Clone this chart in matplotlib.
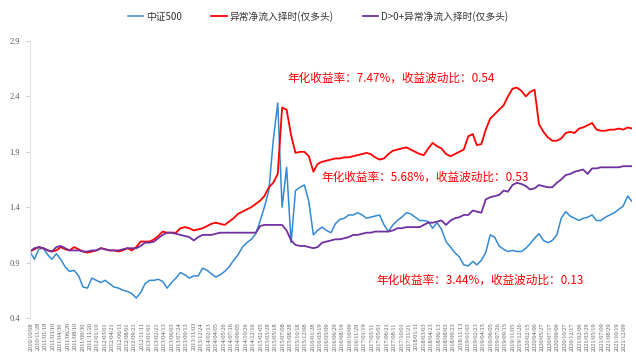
import matplotlib
matplotlib.use("Agg")
import matplotlib.pyplot as plt
import numpy as np
import pandas as pd

# month-start sample dates (one value per month)
dates = pd.date_range("2010-10-01", periods=137, freq="MS")

csi500 = [
    1.00, 0.93, 1.02, 1.03, 0.97, 0.93, 0.98, 0.93, 0.86, 0.82,
    0.83, 0.78, 0.68, 0.67, 0.76, 0.74, 0.72, 0.74, 0.71, 0.68,
    0.67, 0.65, 0.64, 0.62, 0.58, 0.63, 0.71, 0.74, 0.74, 0.75,
    0.73, 0.67, 0.72, 0.76, 0.81, 0.79, 0.76, 0.78, 0.78, 0.85,
    0.83, 0.80, 0.77, 0.79, 0.82, 0.86, 0.92, 0.97, 1.04, 1.08,
    1.11, 1.16, 1.28, 1.40, 1.55, 2.00, 2.34, 1.40, 1.76, 1.08,
    1.55, 1.58, 1.60, 1.45, 1.15, 1.19, 1.22, 1.19, 1.17, 1.25,
    1.29, 1.30, 1.33, 1.33, 1.35, 1.33, 1.30, 1.31, 1.32, 1.33,
    1.24, 1.18, 1.24, 1.28, 1.31, 1.35, 1.34, 1.31, 1.28, 1.28,
    1.27, 1.21, 1.26, 1.20, 1.09, 1.04, 0.99, 0.95, 0.88, 0.87,
    0.91, 0.88, 0.92, 0.99, 1.15, 1.13, 1.05, 1.02, 1.00, 1.01,
    1.00, 1.00, 1.03, 1.07, 1.12, 1.16, 1.10, 1.08, 1.10, 1.15,
    1.30, 1.36, 1.32, 1.30, 1.28, 1.30, 1.31, 1.33, 1.28, 1.28,
    1.31, 1.33, 1.35, 1.38, 1.41, 1.50, 1.45,
]

abnormal_inflow = [
    1.00, 1.02, 1.04, 1.03, 1.01, 1.00, 1.01, 1.04, 1.02, 1.01,
    1.04, 1.02, 1.00, 0.99, 1.00, 1.01, 1.03, 1.02, 1.01, 1.01,
    1.00, 1.01, 1.03, 1.01, 1.04, 1.09, 1.09, 1.09, 1.11, 1.14,
    1.18, 1.17, 1.17, 1.17, 1.21, 1.22, 1.21, 1.19, 1.20, 1.21,
    1.23, 1.25, 1.26, 1.25, 1.24, 1.27, 1.30, 1.34, 1.36, 1.38,
    1.40, 1.43, 1.46, 1.50, 1.58, 1.62, 1.70, 2.30, 2.28, 2.05,
    1.89, 1.90, 1.90, 1.86, 1.72, 1.79, 1.81, 1.82, 1.83, 1.84,
    1.84, 1.85, 1.85, 1.86, 1.87, 1.88, 1.89, 1.88, 1.85, 1.83,
    1.84, 1.88, 1.91, 1.92, 1.93, 1.94, 1.92, 1.90, 1.88, 1.87,
    1.93, 1.98, 1.95, 1.93, 1.88, 1.86, 1.88, 1.90, 1.92, 2.04,
    2.06, 1.96, 1.97, 2.10, 2.20, 2.24, 2.28, 2.32, 2.40, 2.47,
    2.48, 2.45, 2.40, 2.44, 2.46, 2.15, 2.08, 2.03, 2.00, 2.00,
    2.02, 2.07, 2.08, 2.07, 2.11, 2.12, 2.14, 2.16, 2.10, 2.09,
    2.09, 2.10, 2.10, 2.11, 2.10, 2.12, 2.11,
]

d_pos_inflow = [
    1.00, 1.03, 1.04, 1.03, 1.01, 1.00, 1.04, 1.05, 1.03, 1.01,
    1.01, 1.01, 1.00, 1.00, 1.01, 1.01, 1.03, 1.02, 1.01, 1.01,
    1.01, 1.02, 1.03, 1.03, 1.03, 1.05, 1.08, 1.08, 1.09, 1.12,
    1.15, 1.17, 1.17, 1.16, 1.15, 1.14, 1.13, 1.10, 1.13, 1.15,
    1.15, 1.15, 1.16, 1.17, 1.17, 1.17, 1.17, 1.17, 1.17, 1.17,
    1.17, 1.17, 1.23, 1.24, 1.24, 1.24, 1.24, 1.24, 1.19, 1.10,
    1.06, 1.05, 1.05, 1.04, 1.03, 1.04, 1.08, 1.09, 1.10, 1.11,
    1.11, 1.12, 1.13, 1.15, 1.15, 1.16, 1.17, 1.17, 1.18, 1.18,
    1.18, 1.18, 1.19, 1.21, 1.21, 1.22, 1.22, 1.22, 1.22, 1.24,
    1.26, 1.26, 1.27, 1.28, 1.24, 1.28, 1.30, 1.31, 1.33, 1.33,
    1.37, 1.36, 1.35, 1.47, 1.49, 1.50, 1.51, 1.55, 1.54, 1.60,
    1.62, 1.61, 1.59, 1.56, 1.57, 1.60, 1.59, 1.58, 1.58, 1.62,
    1.65, 1.69, 1.70, 1.72, 1.73, 1.74, 1.70, 1.75, 1.75, 1.76,
    1.76, 1.76, 1.76, 1.76, 1.77, 1.77, 1.77,
]

series_names = ["中证500", "异常净流入择时(仅多头)", "D>0+异常净流入择时(仅多头)"]
notes = [
    "年化收益率：7.47%，收益波动比：0.54",
    "年化收益率：5.68%，收益波动比：0.53",
    "年化收益率：3.44%，收益波动比：0.13",
]
y_ticks = [0.4, 0.9, 1.4, 1.9, 2.4, 2.9]

cjk = ["Noto Sans CJK SC", "DejaVu Sans"]

fig = plt.figure(figsize=(6.36, 3.63), dpi=100)
ax = fig.add_axes([0.047, 0.124, 0.947, 0.763])

ax.plot(dates, csi500, color="#3389D4", lw=1.1, label=series_names[0])
ax.plot(dates, abnormal_inflow, color="#FF0000", lw=1.3, label=series_names[1])
ax.plot(dates, d_pos_inflow, color="#7030A0", lw=1.3, label=series_names[2])

ax.set_xlim(dates[0], dates[-1])
ax.set_ylim(0.4, 2.9)
ax.set_yticks(y_ticks)
ax.set_yticklabels([f"{v:.1f}" for v in y_ticks], family="Liberation Serif",
                   fontsize=6, color="#595959")

tick_dates = pd.date_range("2010-10-08", "2022-01-28", freq="51D")
ax.set_xticks(tick_dates)
ax.set_xticklabels([d.strftime("%Y/%m/%d") for d in tick_dates], rotation=90,
                   fontsize=4.6, color="#595959", family="Liberation Serif")
ax.tick_params(axis="x", length=0, pad=3)
ax.tick_params(axis="y", length=3, color="#d0d0d0", pad=4)

for s in ["top", "right", "bottom"]:
    ax.spines[s].set_visible(False)
ax.spines["left"].set_color("#e0e0e0")

# annotation texts
note_pos = [(0.427, 0.866), (0.484, 0.509), (0.575, 0.137)]
for txt, (xx, yy) in zip(notes, note_pos):
    ax.text(xx, yy, txt, transform=ax.transAxes, color="#FF0000", fontsize=8.4,
            family=cjk, ha="left", va="center")

fig.legend(loc="center", bbox_to_anchor=(0.5, 0.955), ncol=3, frameon=False,
           prop={"family": cjk, "size": 7}, handlelength=1.6, handletextpad=0.3,
           columnspacing=3.0, labelcolor="#333333")

fig.savefig("out.png", dpi=100)
